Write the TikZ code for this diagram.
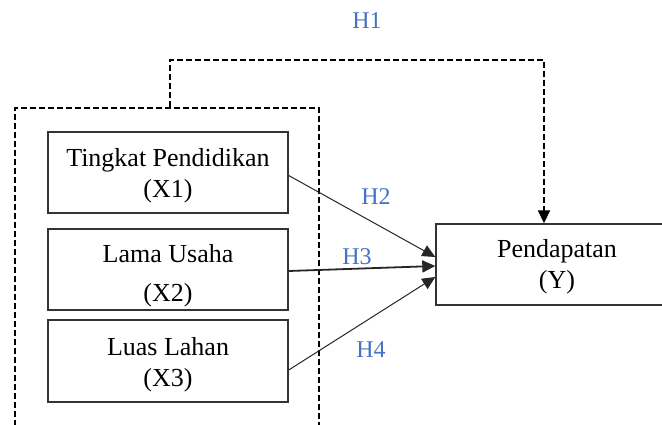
\documentclass[tikz,border=0pt]{standalone}
\usepackage{fontspec}
\setmainfont{Liberation Serif}
\usetikzlibrary{arrows.meta}
\definecolor{hblue}{HTML}{4472C4}
\begin{document}
\begin{tikzpicture}[x=1pt,y=-1pt,
  varbox/.style={draw=black!80, line width=1.4pt, rectangle, inner sep=0pt},
  vartext/.style={inner sep=0pt, align=center, font=\fontsize{26}{31}\selectfont},
  grpbox/.style={draw=black, line width=1.6pt, dash pattern=on 6pt off 3pt, rectangle, inner sep=0pt},
  arr/.style={draw=black!85, line width=1pt, -{Triangle[length=13pt,width=12pt]}},
  arrdash/.style={draw=black, line width=1.8pt, dash pattern=on 6pt off 3pt, -{Triangle[length=13pt,width=12pt]}},
  hlab/.style={text=hblue, font=\fontsize{24}{28}\selectfont, inner sep=0pt}]
\useasboundingbox (0,0) rectangle (662,425);
\begin{scope}
\clip (0,0) rectangle (662,425);
\node[grpbox, minimum width=304pt, minimum height=340pt] (grp) at (167,278) {};
\node[varbox, minimum width=240pt, minimum height=81pt] (x1) at (168,172.5) {};
\node[vartext] (t1) at (168,175.5) {Tingkat Pendidikan\\(X1)};
\node[varbox, minimum width=240pt, minimum height=81pt] (x2) at (168,269.5) {};
\node[vartext] (t2) at (168,276) {Lama Usaha\\[8pt](X2)};
\node[varbox, minimum width=240pt, minimum height=82pt] (x3) at (168,361) {};
\node[vartext] (t3) at (168,365) {Luas Lahan\\(X3)};
\node[varbox, minimum width=242pt, minimum height=81pt] (y) at (557,264.5) {};
\node[vartext] (ty) at (557,266.5) {Pendapatan\\(Y)};
\coordinate (h1a) at (170,60);
\draw[arrdash] ([xshift=3pt]grp.north) -- (h1a) -| ([xshift=-13pt]y.north);
\draw[arr] ([yshift=-3pt]x1.east) -- ([yshift=7.5pt]y.west);
\draw[arr, line width=1.8pt] ([yshift=-1.5pt]x2.east) -- ([yshift=-1.5pt]y.west);
\draw[arr] ([yshift=-9pt]x3.east) -- ([yshift=-12.5pt]y.west);
\node[hlab] (l1) at (367,21) {H1};
\node[hlab] (l2) at (376,197) {H2};
\node[hlab] (l3) at (357,257) {H3};
\node[hlab] (l4) at (371,350) {H4};
\end{scope}
\end{tikzpicture}
\end{document}
